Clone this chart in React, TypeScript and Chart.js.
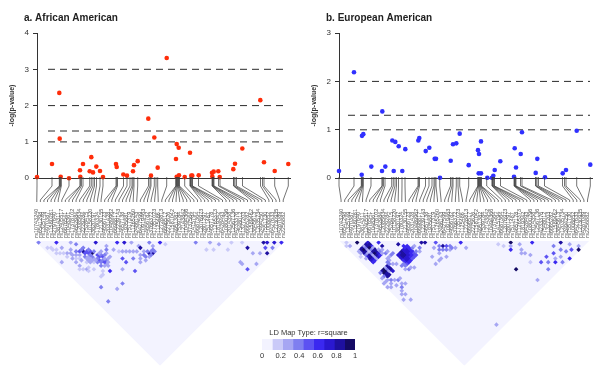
import React, { useEffect, useRef } from 'react';
import { Chart, registerables } from 'chart.js';

Chart.register(...registerables);
Chart.defaults.font.family = "'Liberation Sans', Arial, sans-serif";

// ---------- DATA ----------
const snpLabels = [
  'rs10743240', 'rs6541298', 'rs1325749', 'rs4970387', 'rs11580281', 'rs2797640', 'rs3814311', 'rs12405517', 'rs6676541', 'rs1048361',
  'rs17378102', 'rs4652984', 'rs12085634', 'rs2229284', 'rs7528415', 'rs10158220', 'rs3820197', 'rs1780324', 'rs12130155', 'rs4656723',
  'rs2031428', 'rs10489962', 'rs6698817', 'rs12239143', 'rs4657138', 'rs1935881', 'rs7517319', 'rs11265260', 'rs2486143', 'rs6427599',
  'rs10919463', 'rs4656782', 'rs3766372', 'rs17351023', 'rs1125486', 'rs12728813', 'rs6696517', 'rs2275626', 'rs11581042', 'rs4951382',
  'rs7539184', 'rs12143842', 'rs10494366', 'rs3737564', 'rs1415794', 'rs6687364', 'rs12076973', 'rs2801297', 'rs7511487', 'rs4657178',
  'rs11265373', 'rs1819342', 'rs6428493', 'rs10800796', 'rs2014358', 'rs12567136', 'rs4233376', 'rs7548012', 'rs1327203', 'rs6665282',
  'rs11589462', 'rs3845613', 'rs12035734', 'rs2494250', 'rs7551730', 'rs1008852', 'rs6427633', 'rs12730935', 'rs4287089', 'rs2256882',
];

// SNP positions along the region (kb from first SNP)
const snpPos = [
  0, 15, 22.3, 22.7, 23.3, 23.8, 24.3, 32, 43, 43.3,
  44.5, 46, 52.7, 54.3, 56, 57.5, 59.5, 63, 66, 79,
  79.7, 80.5, 86.5, 90, 93, 95, 96, 97, 100.7, 111.5,
  113, 114, 117.3, 119, 120.7, 129.7, 138.8, 139, 139.5, 140,
  140.5, 141, 141.5, 142, 142.5, 147.7, 153, 153.3, 153.7, 154.3,
  155, 155.5, 161.5, 175, 175.5, 175.8, 176.5, 177, 181.5, 183,
  196.5, 197, 198, 199.5, 205.5, 223.5, 225.5, 227, 237.7, 251.3,
];

// a. African American
const aaPos = [
  0, 15, 22.3, 22.7, 23.7, 32, 43, 43.3, 46, 52.7, 54.3, 56, 59.3, 63, 66, 79, 79.7, 86.3, 90,
  96, 97, 100.7, 111.3, 114, 117.3, 120.7, 129.7, 139, 139.7, 141.7, 139.7, 142, 147.7, 153,
  154.3, 155.3, 161.7, 175, 176.7, 175.3, 181.3, 182.7, 196.3, 198, 205.3, 223.3, 227, 237.7, 251.3,
];
const aaLogP = [
  0.03, 0.39, 2.35, 1.09, 0.04, 0.0, 0.22, 0.04, 0.39, 0.19, 0.58, 0.16, 0.32, 0.2, 0.03, 0.39, 0.31, 0.1, 0.07,
  0.19, 0.36, 0.47, 1.64, 0.07, 1.12, 0.29, 3.31, 0.53, 0.94, 0.84, 0.04, 0.08, 0.03, 0.7,
  0.07, 0.07, 0.08, 0.15, 0.18, 0.05, 0.19, 0.03, 0.25, 0.4, 0.82, 2.15, 0.44, 0.2, 0.39,
];
const aaThresholds = [1, 1.3, 2, 3];

// b. European American
const eaPos = [
  0, 15, 22.7, 23, 24.3, 32.3, 43.3, 43, 46.3, 53.3, 56.3, 54.7, 59.7, 63.3, 66.3, 79.3, 80.3, 86.7, 90.3,
  95.7, 97, 101, 111.7, 114, 117.3, 120.7, 129.7, 139, 140, 139.7, 142, 142, 148.3, 153,
  154.3, 155.7, 161.3, 175.7, 175, 177, 181.7, 183, 196.7, 198.3, 206, 223.7, 227, 237.7, 251.3,
];
const eaLogP = [
  0.15, 2.19, 0.07, 0.875, 0.91, 0.24, 1.38, 0.15, 0.24, 0.78, 0.75, 0.15, 0.66, 0.15, 0.6, 0.78, 0.83, 0.56, 0.63,
  0.4, 0.4, 0.01, 0.36, 0.7, 0.72, 0.92, 0.27, 0.58, 0.5, 0.1, 0.1, 0.76, 0.01, 0.01,
  0.05, 0.17, 0.35, 0.62, 0.03, 0.22, 0.5, 0.95, 0.11, 0.4, 0.02, 0.1, 0.17, 0.98, 0.28,
];
const eaThresholds = [1, 1.3, 2];

// LD r-square cells [snp i, snp j, r2] (cells not listed are ~0)
const ldA: number[][] = [
  [0, 1, .35], [5, 6, .6], [9, 10, .3], [10, 12, .35], [16, 17, .75], [18, 21, .3], [22, 23, .65], [24, 25, .75],
  [26, 27, .3], [27, 30, .3], [27, 31, .85], [31, 32, .4], [34, 35, .6], [35, 37, .2], [44, 45, .35], [48, 49, .25],
  [50, 52, .3], [54, 55, .2], [57, 58, .2], [63, 64, .85], [64, 65, .75], [66, 67, .7], [68, 69, .6],
  [2, 6, .15], [5, 9, .3], [5, 12, .3], [11, 15, .4], [10, 16, .85], [12, 19, .9], [11, 17, .5], [9, 18, .4],
  [5, 17, .3], [5, 15, .3], [5, 19, .25], [6, 22, .25], [6, 23, .2], [1, 13, .3], [6, 13, .3], [15, 21, .3],
  [13, 21, .5], [12, 23, .55], [11, 23, .4], [11, 25, .35], [13, 26, .3], [12, 29, .6], [9, 28, .2], [8, 28, .2],
  [16, 23, .3], [16, 25, .3], [19, 24, .3], [19, 29, .55], [19, 31, .5], [16, 32, .25], [19, 36, .5], [22, 32, .4],
  [25, 31, .3], [27, 33, .3], [26, 35, .4], [28, 35, .85], [29, 36, .85], [31, 34, .3], [25, 36, .3], [12, 36, .4],
  [9, 36, .3], [5, 31, .35], [3, 37, .4],
  [7, 12, .3], [8, 14, .4], [9, 15, .45], [10, 15, .4], [10, 17, .5], [11, 18, .45], [12, 18, .55], [12, 17, .4],
  [13, 19, .35], [10, 19, .3], [8, 16, .3], [7, 15, .25], [13, 22, .45], [14, 22, .4], [14, 23, .5], [13, 24, .4],
  [12, 24, .35], [12, 22, .35], [14, 21, .3], [15, 23, .4], [14, 25, .35], [13, 25, .45], [12, 26, .3], [17, 22, .35],
  [28, 34, .35], [29, 35, .4], [30, 35, .35], [27, 36, .3], [28, 36, .4], [30, 36, .35], [3, 8, .2], [2, 9, .15],
  [4, 11, .2], [6, 14, .25], [7, 17, .2], [4, 20, .2], [5, 21, .2],
  [1, 5, .15], [2, 7, .2], [3, 10, .2], [4, 13, .2], [6, 16, .2], [7, 18, .25], [8, 20, .2], [9, 21, .25],
  [10, 22, .2], [11, 21, .3], [9, 20, .25], [10, 21, .3], [11, 20, .35], [10, 20, .3], [9, 19, .3], [11, 19, .35],
  [11, 22, .3], [14, 24, .3], [15, 25, .3], [13, 27, .25], [14, 26, .3], [7, 22, .2], [8, 24, .2], [10, 27, .2],
  [20, 26, .2], [21, 27, .25], [22, 28, .3], [23, 29, .25], [24, 30, .3], [25, 33, .3], [26, 34, .35], [24, 34, .25],
  [23, 35, .3],
  [45, 50, .2], [47, 52, .2], [51, 56, .2], [57, 61, .8], [57, 64, .3], [59, 66, .3], [62, 66, .5], [61, 68, .8],
  [64, 68, .35], [51, 63, .3], [51, 64, .3], [51, 67, .5], [55, 68, .3],
];
const ldB: number[][] = [
  [1, 2, .2], [4, 5, .95], [7, 10, .6], [10, 11, .6], [10, 13, .85], [15, 17, .85], [16, 19, .6], [22, 23, .8],
  [23, 24, .85], [26, 27, .5], [27, 30, .8], [33, 34, .6], [33, 37, .3], [43, 45, .2], [47, 48, .95], [49, 51, .3],
  [53, 54, .6], [58, 61, .35], [61, 62, .8], [63, 65, .3], [65, 68, .3], [64, 69, .95],
  [3, 8, .8], [3, 9, .85], [3, 10, .8], [3, 11, .35], [3, 12, .75], [3, 13, .8], [3, 14, .7], [3, 15, .6],
  [4, 8, .85], [4, 9, .9], [4, 10, .85], [4, 11, .3], [4, 12, .8], [4, 13, .85], [4, 14, .75], [4, 15, .65],
  [5, 8, .3], [5, 9, .35], [5, 10, .3], [5, 11, .2], [5, 12, .35], [5, 13, .3], [5, 14, .3], [5, 15, .25],
  [6, 8, .8], [6, 9, .85], [6, 10, .9], [6, 11, .35], [6, 12, .85], [6, 13, .9], [6, 14, .8], [6, 15, .7],
  [7, 8, .75], [7, 9, .8], [7, 11, .3], [7, 12, .8], [7, 13, .85], [7, 14, .7], [7, 15, .6],
  [12, 20, .7], [12, 21, .75], [12, 22, .7], [12, 23, .65], [12, 24, .6], [12, 25, .55],
  [13, 20, .75], [13, 21, .8], [13, 22, .8], [13, 23, .7], [13, 24, .7], [13, 25, .6],
  [14, 20, .8], [14, 21, .85], [14, 22, .8], [14, 23, .75], [14, 24, .7], [14, 25, .6],
  [15, 20, .7], [15, 21, .75], [15, 22, .75], [15, 23, .7], [15, 24, .65], [15, 25, .55],
  [16, 20, .65], [16, 21, .7], [16, 22, .7], [16, 23, .65], [16, 24, .6], [16, 25, .5],
  [17, 20, .6], [17, 21, .65], [17, 22, .6], [17, 23, .6], [17, 24, .55], [17, 25, .5],
  [3, 20, .85], [3, 21, .9], [3, 22, .85], [3, 23, .8], [4, 20, .9], [4, 21, .9], [4, 22, .85], [4, 23, .8],
  [5, 20, .3], [5, 21, .35], [5, 22, .3], [6, 20, .85], [6, 21, .85], [6, 22, .8], [6, 23, .75],
  [0, 3, .2], [1, 4, .25], [2, 8, .3], [2, 9, .3], [2, 12, .25], [1, 10, .2], [8, 13, .3], [8, 14, .35],
  [9, 14, .3], [8, 15, .3], [9, 16, .35], [10, 16, .3], [10, 18, .4], [11, 18, .35], [9, 18, .3], [8, 18, .25],
  [8, 19, .3], [7, 19, .35], [7, 20, .4], [8, 21, .3], [9, 22, .3], [10, 24, .35], [11, 24, .4], [11, 25, .4],
  [10, 26, .3], [11, 27, .35], [12, 27, .3], [13, 28, .3], [18, 24, .4], [18, 22, .35], [19, 25, .3], [19, 22, .3],
  [20, 24, .35], [2, 20, .4], [2, 22, .35], [2, 24, .3], [3, 25, .35], [2, 26, .3], [4, 26, .3], [1, 22, .25],
  [1, 24, .3], [0, 24, .25], [1, 27, .3], [0, 26, .25], [3, 28, .3], [5, 27, .35], [6, 27, .3], [5, 29, .3],
  [4, 30, .35], [6, 30, .3], [3, 31, .3], [2, 32, .25], [3, 33, .3], [1, 34, .3], [3, 36, .3], [24, 28, .3],
  [25, 30, .35], [26, 31, .4], [27, 32, .35], [28, 33, .3], [28, 31, .5], [29, 32, .4], [26, 29, .4], [29, 33, .4],
  [30, 34, .3], [24, 31, .3], [23, 33, .3], [22, 33, .25], [25, 34, .3], [20, 33, .25], [21, 30, .3],
  [20, 67, .3], [41, 57, .95], [44, 66, .3], [50, 62, .5], [53, 62, .5], [56, 63, .5], [54, 66, .6], [50, 66, .4],
  [56, 68, .4], [59, 69, .6], [59, 64, .4], [45, 50, .6], [48, 53, .3], [48, 55, .3], [47, 59, .2], [44, 47, .2],
  [46, 49, .3], [52, 64, .4], [55, 65, .3], [57, 66, .3], [60, 66, .4], [62, 67, .5], [47, 54, .25], [49, 57, .25],
];

// LD legend (r-square colour bins)
const legendColors = ['#f3f3ff', '#cacaf8', '#a6a6f3', '#7f7ff0', '#5c52f2', '#3a28f0', '#2a18d0', '#1e10a0', '#140a64'];
const legendEdges = [0, 0.111, 0.222, 0.333, 0.444, 0.556, 0.667, 0.778, 0.889, 1];
const legendTitle = 'LD Map Type: r=square';
const yTitle = '-log(p-value)';

// ---------- LAYOUT / STYLE ----------
const TRI_BG = '#f3f3ff';
const colorFor = (r2: number) => legendColors[Math.max(0, Math.min(8, Math.floor(r2 * 9)))];
const SCATTER_H = 187;

const panels = [
  {
    left: 0, title: 'a. African American', titleX: 24, color: '#ff2d0a', pos: aaPos, vals: aaLogP, thr: aaThresholds,
    ymax: 4, padL: 0, padR: 10, dashFrom: 11, dashTo: 250, ldPadL: 35, ldPadR: 15, xpMin: -2, xpMax: 248, ld: ldA,
  },
  {
    left: 300, title: 'b. European American', titleX: 26, color: '#3030ff', pos: eaPos, vals: eaLogP, thr: eaThresholds,
    ymax: 3, padL: 2, padR: 8, dashFrom: 9, dashTo: 251, ldPadL: 39.3, ldPadR: 10.7, xpMin: 0.3, xpMax: 250.3, ld: ldB,
  },
];

const titlePlugin = {
  id: 'panelTitle',
  afterDraw(chart: any, _a: any, opts: any) {
    const ctx = chart.ctx;
    ctx.save();
    ctx.font = "bold 10px 'Liberation Sans', Arial, sans-serif";
    ctx.fillStyle = '#222';
    ctx.textBaseline = 'alphabetic';
    ctx.fillText(opts.text, opts.x, 20.5);
    ctx.restore();
  },
};

const connectorPlugin = {
  id: 'snpConnectors',
  afterDraw(chart: any) {
    const ctx = chart.ctx;
    const xp = chart.scales.xp;
    const xi = chart.scales.x;
    ctx.save();
    ctx.strokeStyle = '#3a3a3a';
    ctx.lineWidth = 0.7;
    snpPos.forEach((p, k) => {
      const a = xp.getPixelForValue(p);
      const b = xi.getPixelForValue(k);
      ctx.beginPath();
      ctx.moveTo(a, 0);
      ctx.lineTo(a, 9);
      ctx.lineTo(b, 23);
      ctx.lineTo(b, 25);
      ctx.stroke();
    });
    ctx.restore();
  },
};

function scatterConfig(p: any): any {
  return {
    type: 'scatter',
    data: {
      datasets: [
        ...p.thr.map((t: number) => ({
          type: 'line',
          data: [{ x: p.dashFrom, y: t }, { x: p.dashTo, y: t }],
          borderColor: '#2a2a2a',
          borderWidth: 1,
          borderDash: [7, 5],
          pointRadius: 0,
          fill: false,
          order: 2,
        })),
        {
          data: p.pos.map((x: number, i: number) => ({ x, y: p.vals[i] })),
          backgroundColor: p.color,
          borderWidth: 0,
          pointRadius: 2.3,
          clip: false,
          order: 1,
        },
      ],
    },
    options: {
      responsive: false,
      animation: false,
      events: [],
      layout: { autoPadding: false, padding: { left: p.padL, right: p.padR, top: 33, bottom: 3 } },
      plugins: {
        legend: { display: false },
        tooltip: { enabled: false },
        panelTitle: { text: p.title, x: p.titleX },
      },
      scales: {
        x: {
          type: 'linear', min: 0, max: 253,
          ticks: { display: false },
          grid: { display: false, drawTicks: false },
          border: { display: true, color: '#333', width: 1 },
          afterFit: (s: any) => { s.height = 0; },
        },
        y: {
          min: 0, max: p.ymax,
          ticks: { stepSize: 1, color: '#333', font: { size: 8 }, padding: 4 },
          grid: { drawOnChartArea: false, drawTicks: true, tickLength: 4, color: '#333' },
          border: { color: '#333', width: 1 },
          title: { display: true, text: yTitle, color: '#333', font: { size: 7, weight: 'bold' }, padding: { top: 8, bottom: 0 } },
          afterFit: (s: any) => { s.width = 37; },
        },
      },
    },
    plugins: [titlePlugin],
  };
}

function ldConfig(p: any): any {
  const n = snpLabels.length;
  return {
    type: 'scatter',
    data: {
      datasets: [
        {
          type: 'line',
          data: [{ x: -0.5, y: 0 }, { x: (n - 1) / 2, y: n / 2 }, { x: n - 0.5, y: 0 }],
          fill: 'origin',
          backgroundColor: TRI_BG,
          borderWidth: 0,
          pointRadius: 0,
          xAxisID: 'x', yAxisID: 'y',
          order: 2,
        },
        {
          data: p.ld.map((c: number[]) => ({ x: (c[0] + c[1]) / 2, y: (c[1] - c[0]) / 2, r2: c[2] })),
          pointStyle: 'rectRot',
          pointRadius: 2.3,
          borderWidth: 0,
          backgroundColor: (ctx: any) => colorFor(ctx.raw ? ctx.raw.r2 : 0),
          xAxisID: 'x', yAxisID: 'y',
          order: 1,
        },
      ],
    },
    options: {
      responsive: false,
      animation: false,
      events: [],
      layout: { autoPadding: false, padding: { left: p.ldPadL, right: p.ldPadR, top: 0, bottom: 3.3 } },
      plugins: { legend: { display: false }, tooltip: { enabled: false } },
      scales: {
        x: {
          type: 'linear', position: 'top', min: -0.5, max: n - 0.5,
          afterBuildTicks: (s: any) => { s.ticks = snpLabels.map((_l, i) => ({ value: i })); },
          ticks: {
            autoSkip: false, minRotation: 90, maxRotation: 90, padding: 3, labelOffset: 6.6,
            font: { size: 5.5 }, color: '#555',
            callback: (v: number) => snpLabels[v],
          },
          grid: { display: false, drawTicks: false },
          border: { display: false },
          afterFit: (s: any) => { s.height = 63.7; },
        },
        y: { display: false, min: 0, max: n / 2, reverse: true },
        xp: { type: 'linear', axis: 'x', display: false, min: p.xpMin, max: p.xpMax },
      },
    },
    plugins: [connectorPlugin],
  };
}

function legendConfig(): any {
  return {
    type: 'bar',
    data: {
      labels: [''],
      datasets: legendColors.map((c, k) => ({
        data: [[legendEdges[k], legendEdges[k + 1]]],
        backgroundColor: c,
        borderWidth: 0,
        barPercentage: 1,
        categoryPercentage: 1,
        grouped: false,
      })),
    },
    options: {
      indexAxis: 'y',
      responsive: false,
      animation: false,
      events: [],
      layout: { autoPadding: false, padding: { left: 22, right: 15, top: 0, bottom: 0 } },
      plugins: {
        legend: { display: false },
        tooltip: { enabled: false },
        title: { display: true, text: legendTitle, color: '#333', font: { size: 7.5, weight: 'normal' }, padding: { top: 2, bottom: 2 } },
      },
      scales: {
        x: {
          type: 'linear', min: 0, max: 1,
          ticks: { stepSize: 0.2, color: '#333', font: { size: 7.5 }, padding: 1, callback: (v: number) => String(Math.round(v * 10) / 10) },
          grid: { display: false, drawTicks: false },
          border: { display: false },
          afterFit: (s: any) => { s.height = 12; },
        },
        y: { display: false },
      },
    },
  };
}

export default function App() {
  const sA = useRef<HTMLCanvasElement>(null);
  const sB = useRef<HTMLCanvasElement>(null);
  const lA = useRef<HTMLCanvasElement>(null);
  const lB = useRef<HTMLCanvasElement>(null);
  const lg = useRef<HTMLCanvasElement>(null);

  useEffect(() => {
    const charts: Chart[] = [];
    charts.push(new Chart(sA.current as HTMLCanvasElement, scatterConfig(panels[0])));
    charts.push(new Chart(sB.current as HTMLCanvasElement, scatterConfig(panels[1])));
    charts.push(new Chart(lA.current as HTMLCanvasElement, ldConfig(panels[0])));
    charts.push(new Chart(lB.current as HTMLCanvasElement, ldConfig(panels[1])));
    charts.push(new Chart(lg.current as HTMLCanvasElement, legendConfig()));
    return () => charts.forEach((c) => c.destroy());
  }, []);

  const abs = (left: number, top: number, w: number, h: number): React.CSSProperties => ({
    position: 'absolute', left, top, width: w, height: h,
  });

  return (
    <div style={{ position: 'fixed', left: 0, top: 0, width: 600, height: 369, background: '#fff', overflow: 'hidden' }}>
      <canvas ref={sA} width={300} height={SCATTER_H} style={abs(0, 0, 300, SCATTER_H)} />
      <canvas ref={sB} width={300} height={SCATTER_H} style={abs(300, 0, 300, SCATTER_H)} />
      <canvas ref={lA} width={300} height={192} style={abs(0, 177, 300, 192)} />
      <canvas ref={lB} width={300} height={192} style={abs(300, 177, 300, 192)} />
      <canvas ref={lg} width={130} height={36} style={abs(240, 326, 130, 36)} />
    </div>
  );
}
